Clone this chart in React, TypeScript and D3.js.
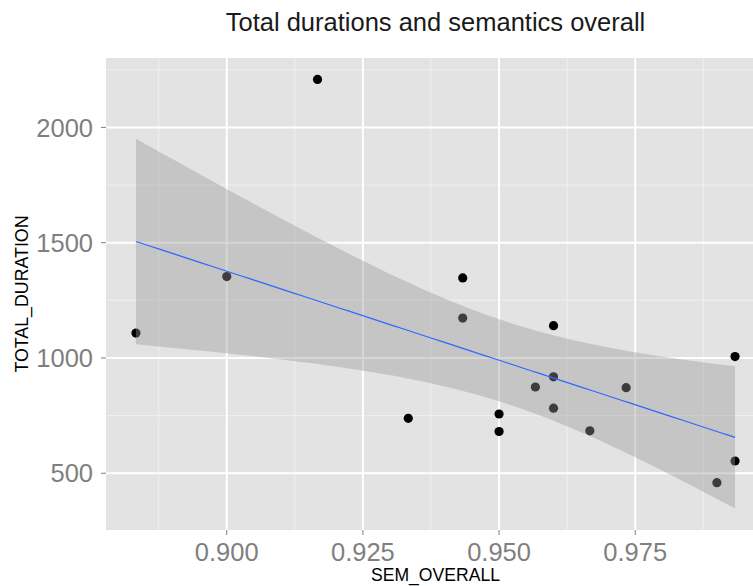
import React from "react";
import * as d3 from "d3";

// SEM_OVERALL scores and total durations
const semOverall = [
  0.88333, 0.9, 0.91667, 0.94333, 0.94333, 0.93333, 0.95, 0.95, 0.96, 0.96,
  0.95667, 0.96, 0.96667, 0.97333, 0.99333, 0.99333, 0.99,
];
const totalDuration = [
  1108, 1353, 2208, 1347, 1173, 738, 757, 681, 1140, 918,
  874, 782, 684, 871, 1006, 553, 459,
];
const xTicks = [0.9, 0.925, 0.95, 0.975];
const xMinor = [0.8875, 0.9125, 0.9375, 0.9625, 0.9875];
const yTicks = [500, 1000, 1500, 2000];
const yMinor = [250, 750, 1250, 1750, 2250];

// Student t quantile (0.975, df = 15) for the 95% confidence band
const T_CRIT = 2.13145;

const W = 753;
const H = 586;
const M = { left: 106, right: 765, top: 58, bottom: 530 };

function fitLinear(xs: number[], ys: number[]) {
  const n = xs.length;
  const xbar = d3.mean(xs)!;
  const ybar = d3.mean(ys)!;
  let sxx = 0;
  let sxy = 0;
  xs.forEach((x, i) => {
    sxx += (x - xbar) ** 2;
    sxy += (x - xbar) * (ys[i] - ybar);
  });
  const b = sxy / sxx;
  const a = ybar - b * xbar;
  let rss = 0;
  xs.forEach((x, i) => {
    rss += (ys[i] - (a + b * x)) ** 2;
  });
  const s = Math.sqrt(rss / (n - 2));
  return { a, b, s, n, xbar, sxx };
}

export default function App() {
  const pts = semOverall.map((x, i) => ({ x, y: totalDuration[i] }));
  const fit = fitLinear(semOverall, totalDuration);
  const [xMin, xMax] = d3.extent(semOverall) as [number, number];

  const band = d3.range(80).map((i) => {
    const x = xMin + ((xMax - xMin) * i) / 79;
    const yhat = fit.a + fit.b * x;
    const se = fit.s * Math.sqrt(1 / fit.n + (x - fit.xbar) ** 2 / fit.sxx);
    return { x, y: yhat, lo: yhat - T_CRIT * se, hi: yhat + T_CRIT * se };
  });

  const xPad = (xMax - xMin) * 0.05;
  const x = d3.scaleLinear().domain([xMin - xPad, xMax + xPad]).range([M.left, M.right]);

  const yLo = Math.min(d3.min(totalDuration)!, d3.min(band, (d) => d.lo)!);
  const yHi = Math.max(d3.max(totalDuration)!, d3.max(band, (d) => d.hi)!);
  const yPad = (yHi - yLo) * 0.05;
  const y = d3.scaleLinear().domain([yLo - yPad, yHi + yPad]).range([M.bottom, M.top]);

  const area = d3
    .area<{ x: number; lo: number; hi: number }>()
    .x((d) => x(d.x))
    .y0((d) => y(d.lo))
    .y1((d) => y(d.hi));
  const line = d3
    .line<{ x: number; y: number }>()
    .x((d) => x(d.x))
    .y((d) => y(d.y));

  const font = "'Liberation Sans', Arial, sans-serif";
  const cx = (M.left + M.right) / 2;
  const cy = (M.top + M.bottom) / 2;

  return (
    <svg
      width={W}
      height={H}
      style={{ position: "fixed", left: 0, top: 0, background: "#fff" }}
      fontFamily={font}
    >
      <defs>
        <clipPath id="panel">
          <rect x={M.left} y={M.top} width={M.right - M.left} height={M.bottom - M.top} />
        </clipPath>
      </defs>
      <rect x={M.left} y={M.top} width={M.right - M.left} height={M.bottom - M.top} fill="#E3E3E3" />
      <g clipPath="url(#panel)">
        {xMinor.map((v) => (
          <line key={"xm" + v} x1={x(v)} x2={x(v)} y1={M.top} y2={M.bottom} stroke="#F0F0F0" strokeWidth={1} />
        ))}
        {yMinor.map((v) => (
          <line key={"ym" + v} x1={M.left} x2={M.right} y1={y(v)} y2={y(v)} stroke="#F0F0F0" strokeWidth={1} />
        ))}
        {xTicks.map((v) => (
          <line key={"xg" + v} x1={x(v)} x2={x(v)} y1={M.top} y2={M.bottom} stroke="#fff" strokeWidth={2} />
        ))}
        {yTicks.map((v) => (
          <line key={"yg" + v} x1={M.left} x2={M.right} y1={y(v)} y2={y(v)} stroke="#fff" strokeWidth={2} />
        ))}
        {pts.map((p, i) => (
          <circle key={i} cx={x(p.x)} cy={y(p.y)} r={4.6} fill="#000" />
        ))}
        <path d={area(band) ?? ""} fill="#999999" fillOpacity={0.4} />
        <path d={line(band) ?? ""} fill="none" stroke="#3366FF" strokeWidth={1.2} />
      </g>

      {/* axes */}
      {xTicks.map((v) => (
        <g key={"xt" + v}>
          <line x1={x(v)} x2={x(v)} y1={M.bottom} y2={M.bottom + 5} stroke="#7F7F7F" strokeWidth={1} />
          <text x={x(v)} y={561} textAnchor="middle" fontSize={25.5} fill="#7F7F7F">
            {d3.format(".3f")(v)}
          </text>
        </g>
      ))}
      {yTicks.map((v) => (
        <g key={"yt" + v}>
          <line x1={M.left - 5} x2={M.left} y1={y(v)} y2={y(v)} stroke="#7F7F7F" strokeWidth={1} />
          <text x={93} y={y(v)} dy="0.36em" textAnchor="end" fontSize={25.5} fill="#7F7F7F">
            {v}
          </text>
        </g>
      ))}

      <text x={cx} y={581} textAnchor="middle" fontSize={17.6} fill="#000">
        SEM_OVERALL
      </text>
      <text
        transform={`translate(28, ${cy}) rotate(-90)`}
        textAnchor="middle"
        fontSize={17.8}
        fill="#000"
      >
        TOTAL_DURATION
      </text>
      <text x={cx} y={31} textAnchor="middle" fontSize={25.5} fill="#1a1a1a">
        Total durations and semantics overall
      </text>
    </svg>
  );
}
